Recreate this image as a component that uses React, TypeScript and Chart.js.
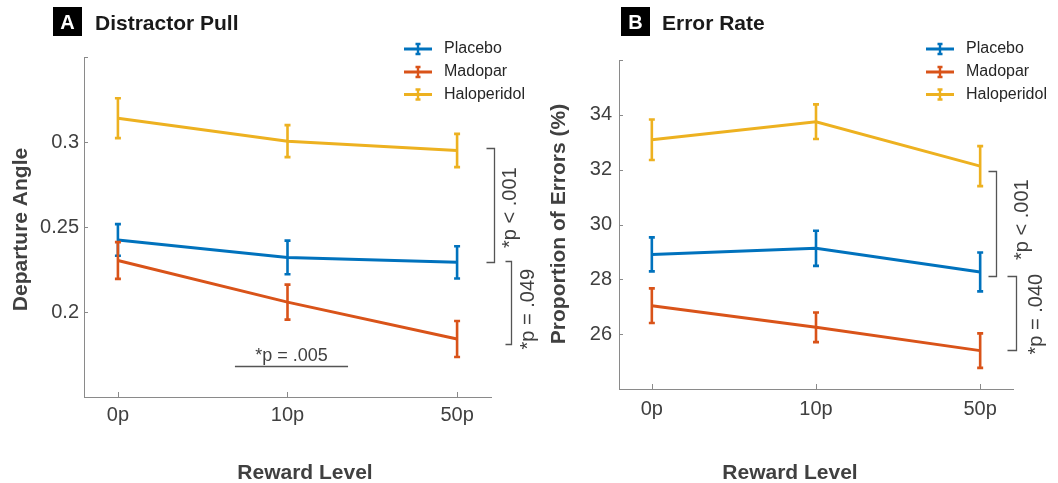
import React, { useEffect, useRef } from "react";
import { Chart, registerables } from "chart.js";

Chart.register(...registerables);

const FONT = '"Liberation Sans", Arial, Helvetica, sans-serif';
const H = 483;

// ---------- shared data ----------
const rewardLevels = ["0p", "10p", "50p"];
const seriesNames = ["Placebo", "Madopar", "Haloperidol"];
const seriesColors = ["#0072BD", "#D95319", "#EDB120"];

// ---------- Panel A: Distractor Pull (departure angle) ----------
const placeboAngle = [0.2424, 0.2321, 0.2292];
const placeboAngleErr = [0.0093, 0.0099, 0.0095];
const madoparAngle = [0.2303, 0.2058, 0.1841];
const madoparAngleErr = [0.0108, 0.0103, 0.0106];
const haloAngle = [0.314, 0.3005, 0.295];
const haloAngleErr = [0.0117, 0.0094, 0.0098];
const angleTicks = [0.15, 0.2, 0.25, 0.3, 0.35];
const angleTickLabels = ["", "0.2", "0.25", "0.3", ""];
const angleBrackets = [
  { from: 0.2964, to: 0.2292, label: "*p < .001" },
  { from: 0.2298, to: 0.1812, label: "*p = .049" },
];
const anglePair = { from: 0.69, to: 1.357, level: 0.168, label: "*p = .005" };

// ---------- Panel B: Error Rate ----------
const placeboErrors = [28.91, 29.13, 28.27];
const placeboErrorsErr = [0.62, 0.64, 0.71];
const madoparErrors = [27.04, 26.25, 25.4];
const madoparErrorsErr = [0.63, 0.54, 0.63];
const haloErrors = [33.09, 33.75, 32.13];
const haloErrorsErr = [0.74, 0.63, 0.73];
const errorTicks = [24, 26, 28, 30, 32, 34, 36];
const errorTickLabels = ["", "26", "28", "30", "32", "34", ""];
const errorBrackets = [
  { from: 31.95, to: 28.12, label: "*p < .001" },
  { from: 28.12, to: 25.41, label: "*p = .040" },
];

type Series = { values: number[]; errs: number[] };
type Bracket = { from: number; to: number; label: string };
type BracketGeo = { bx: number; len: number; tx: number; ty: number };

type PanelCfg = {
  id: string;
  letter: string;
  title: string;
  yTitle: string;
  left: number;
  width: number;
  area: { left: number; right: number; top: number; bottom: number };
  yMin: number;
  yMax: number;
  yTicks: number[];
  yTickLabels: string[];
  series: Series[];
  yPad: number;
  xPad: number;
  boxX: number;
  titleX: number;
  legendX: number;
  yTitlePos: { x: number; y: number };
  xTitlePos: { x: number; y: number };
  brackets: Bracket[];
  bracketGeo: BracketGeo[];
  pair?: { from: number; to: number; level: number; label: string };
};

const AXIS_COLOR = "#8a8a8a";
const TEXT_COLOR = "#404040";

function rotText(
  ctx: CanvasRenderingContext2D,
  text: string,
  x: number,
  y: number,
  font: string,
  color: string,
  align: CanvasTextAlign
) {
  ctx.save();
  ctx.translate(x, y);
  ctx.rotate(-Math.PI / 2);
  ctx.font = font;
  ctx.fillStyle = color;
  ctx.textAlign = align;
  ctx.textBaseline = "alphabetic";
  ctx.fillText(text, 0, 0);
  ctx.restore();
}

function makePlugin(cfg: PanelCfg) {
  return {
    id: "decor" + cfg.id,
    afterDatasetDraw(chart: any, args: any) {
      const i = args.index;
      const s = cfg.series[i];
      const xs = chart.scales.x;
      const ys = chart.scales.y;
      const ctx: CanvasRenderingContext2D = chart.ctx;
      ctx.save();
      ctx.strokeStyle = seriesColors[i];
      ctx.lineWidth = 2.6;
      ctx.lineCap = "butt";
      s.values.forEach((v, j) => {
        const px = xs.getPixelForValue(j);
        const top = ys.getPixelForValue(v + s.errs[j]);
        const bot = ys.getPixelForValue(v - s.errs[j]);
        ctx.beginPath();
        ctx.moveTo(px, top);
        ctx.lineTo(px, bot);
        ctx.moveTo(px - 3, top);
        ctx.lineTo(px + 3, top);
        ctx.moveTo(px - 3, bot);
        ctx.lineTo(px + 3, bot);
        ctx.stroke();
      });
      ctx.restore();
    },
    afterDraw(chart: any) {
      const ctx: CanvasRenderingContext2D = chart.ctx;
      const xs = chart.scales.x;
      const ys = chart.scales.y;
      const a = chart.chartArea;
      ctx.save();

      // inward tick marks
      ctx.strokeStyle = AXIS_COLOR;
      ctx.lineWidth = 1;
      ctx.beginPath();
      cfg.yTicks.forEach((v) => {
        const py = Math.round(ys.getPixelForValue(v)) + 0.5;
        ctx.moveTo(a.left, py);
        ctx.lineTo(a.left + 4, py);
      });
      rewardLevels.forEach((_, j) => {
        const px = Math.round(xs.getPixelForValue(j)) + 0.5;
        ctx.moveTo(px, a.bottom);
        ctx.lineTo(px, a.bottom - 5);
      });
      ctx.stroke();

      // panel title
      ctx.fillStyle = "#000";
      ctx.fillRect(cfg.boxX, 7, 29, 29);
      ctx.fillStyle = "#fff";
      ctx.font = `bold 20px ${FONT}`;
      ctx.textAlign = "center";
      ctx.textBaseline = "alphabetic";
      ctx.fillText(cfg.letter, cfg.boxX + 14.5, 29);
      ctx.fillStyle = "#1a1a1a";
      ctx.font = `bold 21px ${FONT}`;
      ctx.textAlign = "left";
      ctx.fillText(cfg.title, cfg.titleX, 29.5);

      // axis titles
      rotText(ctx, cfg.yTitle, cfg.yTitlePos.x, cfg.yTitlePos.y, `bold 21px ${FONT}`, TEXT_COLOR, "center");
      ctx.fillStyle = TEXT_COLOR;
      ctx.font = `bold 21px ${FONT}`;
      ctx.textAlign = "center";
      ctx.fillText("Reward Level", cfg.xTitlePos.x, cfg.xTitlePos.y);

      // legend
      const rows = [49, 72, 94.5];
      seriesNames.forEach((name, i) => {
        const y = rows[i];
        const x0 = cfg.legendX;
        const x1 = x0 + 28;
        const xm = (x0 + x1) / 2;
        ctx.strokeStyle = seriesColors[i];
        ctx.lineWidth = 3;
        ctx.beginPath();
        ctx.moveTo(x0, y);
        ctx.lineTo(x1, y);
        ctx.stroke();
        ctx.lineWidth = 2.4;
        ctx.beginPath();
        ctx.moveTo(xm, y - 5);
        ctx.lineTo(xm, y + 5);
        ctx.moveTo(xm - 2.5, y - 5);
        ctx.lineTo(xm + 2.5, y - 5);
        ctx.moveTo(xm - 2.5, y + 5);
        ctx.lineTo(xm + 2.5, y + 5);
        ctx.stroke();
        ctx.fillStyle = "#262626";
        ctx.font = `16px ${FONT}`;
        ctx.textAlign = "left";
        ctx.textBaseline = "middle";
        ctx.fillText(name, x1 + 12, y);
      });
      ctx.textBaseline = "alphabetic";

      // significance brackets
      cfg.brackets.forEach((b, k) => {
        const g = cfg.bracketGeo[k];
        const y1 = Math.round(ys.getPixelForValue(b.from)) + 0.5;
        const y2 = Math.round(ys.getPixelForValue(b.to)) + 0.5;
        ctx.strokeStyle = "#555";
        ctx.lineWidth = 1.3;
        ctx.beginPath();
        ctx.moveTo(g.bx - g.len, y1);
        ctx.lineTo(g.bx, y1);
        ctx.lineTo(g.bx, y2);
        ctx.lineTo(g.bx - g.len, y2);
        ctx.stroke();
        rotText(ctx, b.label, g.tx, g.ty, `20px ${FONT}`, TEXT_COLOR, "left");
      });

      if (cfg.pair) {
        const p = cfg.pair;
        const px1 = xs.getPixelForValue(p.from);
        const px2 = xs.getPixelForValue(p.to);
        const py = Math.round(ys.getPixelForValue(p.level)) + 0.5;
        ctx.strokeStyle = "#555";
        ctx.lineWidth = 1.3;
        ctx.beginPath();
        ctx.moveTo(px1, py);
        ctx.lineTo(px2, py);
        ctx.stroke();
        ctx.fillStyle = TEXT_COLOR;
        ctx.font = `18px ${FONT}`;
        ctx.textAlign = "center";
        ctx.fillText(p.label, (px1 + px2) / 2, py - 6);
      }
      ctx.restore();
    },
  };
}

function Panel({ cfg }: { cfg: PanelCfg }) {
  const ref = useRef<HTMLCanvasElement>(null);
  useEffect(() => {
    const canvas = ref.current;
    if (!canvas) return;
    const order = [3, 2, 1];
    const chart = new Chart(canvas, {
      type: "line",
      data: {
        datasets: cfg.series.map((s, i) => ({
          label: seriesNames[i],
          data: s.values.map((v, j) => ({ x: j, y: v })),
          borderColor: seriesColors[i],
          backgroundColor: seriesColors[i],
          borderWidth: 3,
          pointRadius: 0,
          tension: 0,
          fill: false,
          clip: false as any,
          order: order[i],
        })),
      },
      options: {
        animation: false,
        responsive: false,
        maintainAspectRatio: false,
        devicePixelRatio: 1,
        layout: {
          padding: { left: 0, top: cfg.area.top, right: cfg.width - cfg.area.right, bottom: 0 },
        },
        plugins: { legend: { display: false }, tooltip: { enabled: false }, title: { display: false } },
        scales: {
          x: {
            type: "linear",
            min: -0.2,
            max: 2.2,
            grid: { display: false, drawTicks: false },
            border: { display: true, color: AXIS_COLOR, width: 1 },
            afterBuildTicks: (s: any) => {
              s.ticks = rewardLevels.map((_, j) => ({ value: j }));
            },
            afterFit: (s: any) => {
              s.height = H - cfg.area.bottom;
            },
            ticks: {
              padding: cfg.xPad,
              maxRotation: 0,
              color: TEXT_COLOR,
              font: { family: FONT, size: 20 },
              callback: (_v: any, idx: number) => rewardLevels[idx],
            },
          },
          y: {
            type: "linear",
            min: cfg.yMin,
            max: cfg.yMax,
            grid: { display: false, drawTicks: false },
            border: { display: true, color: AXIS_COLOR, width: 1 },
            afterBuildTicks: (s: any) => {
              s.ticks = cfg.yTicks.map((v) => ({ value: v }));
            },
            afterFit: (s: any) => {
              s.width = cfg.area.left;
            },
            ticks: {
              padding: cfg.yPad,
              color: TEXT_COLOR,
              font: { family: FONT, size: 20 },
              callback: (_v: any, idx: number) => cfg.yTickLabels[idx],
            },
          },
        },
      } as any,
      plugins: [makePlugin(cfg) as any],
    });
    return () => chart.destroy();
  }, [cfg]);
  return (
    <canvas
      ref={ref}
      width={cfg.width}
      height={H}
      style={{ position: "absolute", left: cfg.left, top: 0, width: cfg.width, height: H }}
    />
  );
}

const panelA: PanelCfg = {
  id: "A",
  letter: "A",
  title: "Distractor Pull",
  yTitle: "Departure Angle",
  left: 0,
  width: 545,
  area: { left: 84, right: 491, top: 57, bottom: 397 },
  yMin: 0.15,
  yMax: 0.35,
  yTicks: angleTicks,
  yTickLabels: angleTickLabels,
  series: [
    { values: placeboAngle, errs: placeboAngleErr },
    { values: madoparAngle, errs: madoparAngleErr },
    { values: haloAngle, errs: haloAngleErr },
  ],
  yPad: 5,
  xPad: 6,
  boxX: 53,
  titleX: 95,
  legendX: 404,
  yTitlePos: { x: 27, y: 229.5 },
  xTitlePos: { x: 305, y: 479 },
  brackets: angleBrackets,
  bracketGeo: [
    { bx: 494.5, len: 8, tx: 516, ty: 248 },
    { bx: 511.5, len: 6, tx: 534, ty: 349.5 },
  ],
  pair: anglePair,
};

const panelB: PanelCfg = {
  id: "B",
  letter: "B",
  title: "Error Rate",
  yTitle: "Proportion of Errors (%)",
  left: 529,
  width: 529,
  area: { left: 90, right: 484, top: 60, bottom: 389 },
  yMin: 24,
  yMax: 36,
  yTicks: errorTicks,
  yTickLabels: errorTickLabels,
  series: [
    { values: placeboErrors, errs: placeboErrorsErr },
    { values: madoparErrors, errs: madoparErrorsErr },
    { values: haloErrors, errs: haloErrorsErr },
  ],
  yPad: 7,
  xPad: 8,
  boxX: 92,
  titleX: 133,
  legendX: 397,
  yTitlePos: { x: 36, y: 224 },
  xTitlePos: { x: 261, y: 479 },
  brackets: errorBrackets,
  bracketGeo: [
    { bx: 467.5, len: 8, tx: 498.5, ty: 260 },
    { bx: 487.5, len: 9, tx: 513, ty: 354.5 },
  ],
};

export default function App() {
  return (
    <div
      style={{
        position: "absolute",
        left: 0,
        top: 0,
        width: 1058,
        height: H,
        background: "#fff",
        overflow: "hidden",
      }}
    >
      <Panel cfg={panelA} />
      <Panel cfg={panelB} />
    </div>
  );
}
